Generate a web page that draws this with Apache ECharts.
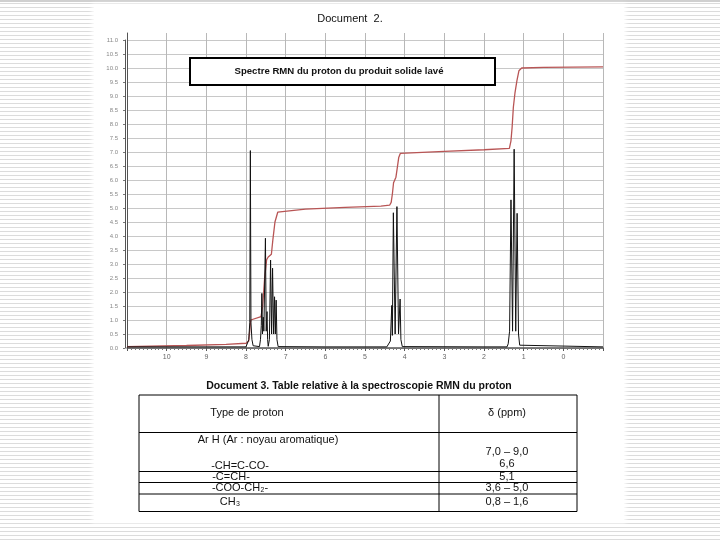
<!DOCTYPE html>
<html>
<head>
<meta charset="utf-8">
<script src="https://cdn.jsdelivr.net/npm/echarts@6/dist/echarts.min.js"></script>
<style>
  html, body { margin: 0; padding: 0; }
  body {
    width: 720px; height: 540px; overflow: hidden; position: relative;
    background: repeating-linear-gradient(to bottom, #ffffff 0px, #ffffff 3px, #dcdcdc 3px, #dcdcdc 4px);
  }
  #page { position: absolute; left: 94px; top: 6px; width: 530px; height: 515px; background: #fff; box-shadow: 0 0 4px 2px #fff; }
  #topline { position: absolute; left: 0; top: 0; width: 720px; height: 2px; background: #d0d0d0; }
  #chart { position: absolute; left: 0; top: 0; width: 720px; height: 540px; }
</style>
</head>
<body>
<div id="topline"></div>
<div id="page"></div>
<div id="chart"></div>
<script>
// ---- data ----
// spectrum: [ppm, intensity]
var spectrum = [
  [11.0, 0.04], [8.0, 0.04], [7.96, 0.08], [7.93, 0.3], [7.905, 0.9], [7.89, 7.05], [7.875, 0.9], [7.85, 0.3], [7.82, 0.08], [7.78, 0.04],
  [7.66, 0.05], [7.635, 0.3], [7.615, 0.8], [7.60, 1.95], [7.585, 0.5], [7.565, 1.1], [7.55, 0.6], [7.51, 3.92], [7.49, 0.6], [7.47, 1.3], [7.455, 0.3], [7.44, 0.06], [7.42, 0.06],
  [7.41, 0.3], [7.38, 3.14], [7.355, 0.5], [7.33, 2.85], [7.305, 0.5], [7.28, 1.83], [7.26, 0.5], [7.24, 1.71], [7.22, 0.3], [7.19, 0.05],
  [6.0, 0.04], [4.45, 0.04],
  [4.40, 0.06], [4.36, 0.25], [4.325, 1.52], [4.31, 0.45], [4.285, 4.83], [4.24, 0.5], [4.195, 5.05], [4.155, 0.5], [4.115, 1.75], [4.095, 0.3], [4.06, 0.05],
  [2.0, 0.04], [1.42, 0.04],
  [1.39, 0.15], [1.355, 0.6], [1.32, 5.29], [1.28, 0.6], [1.24, 7.1], [1.20, 0.6], [1.165, 4.81], [1.13, 0.5], [1.10, 0.1], [1.06, 0.04], [-1.0, 0.04]
];
// integration curve: [ppm, value]
var integral = [
  [11.0, 0.05], [9.5, 0.09], [8.5, 0.13], [8.0, 0.17], [7.93, 0.25], [7.90, 0.7], [7.88, 1.0], [7.85, 1.05],
  [7.62, 1.12], [7.58, 1.5], [7.53, 2.5], [7.48, 3.15], [7.44, 3.25], [7.36, 3.35], [7.32, 3.9], [7.27, 4.5], [7.2, 4.85], [7.15, 4.9],
  [6.5, 4.96], [5.5, 5.02], [4.6, 5.07], [4.38, 5.1], [4.34, 5.2], [4.31, 5.5], [4.28, 5.9], [4.25, 6.0], [4.22, 6.1], [4.19, 6.4], [4.15, 6.8], [4.11, 6.95],
  [3.0, 7.02], [2.0, 7.08], [1.36, 7.13], [1.32, 7.4], [1.29, 7.9], [1.26, 8.6], [1.22, 9.1], [1.17, 9.55], [1.12, 9.9], [1.05, 10.0], [0.5, 10.02], [-1.0, 10.04]
];
var docTitle = 'Document  2.';
var boxTitle = 'Spectre RMN du proton du produit solide lavé';
var tableTitle = 'Document 3. Table relative à la spectroscopie RMN du proton';
var tableHeader = ['Type de proton', 'δ (ppm)'];
var protonTypes = ['Ar H (Ar : noyau aromatique)', '-CH=C-CO-', '-C=CH-', '-COO-CH₂-', 'CH₃'];
var shifts = ['7,0 – 9,0', '6,6', '5,1', '3,6 – 5,0', '0,8 – 1,6'];

// ---- layout ----
var FONT = '"Liberation Sans", Arial, sans-serif';
var chart = echarts.init(document.getElementById('chart'), null, {renderer: 'canvas'});

function txt(x, y, s, size, weight, align) {
  return { type: 'text', x: x, y: y, z: 100,
    style: { text: s, fontSize: size, fontWeight: weight || 'normal', fontFamily: FONT,
             fill: '#111', align: align || 'center', verticalAlign: 'middle' } };
}
function hline(x1, x2, y, w) {
  return { type: 'line', z: 100, shape: {x1: x1, y1: y, x2: x2, y2: y}, style: {stroke: '#000', lineWidth: w || 1} };
}
function vline(x, y1, y2, w) {
  return { type: 'line', z: 100, shape: {x1: x, y1: y1, x2: x, y2: y2}, style: {stroke: '#000', lineWidth: w || 1} };
}

var TL = 139, TR = 577, TC = 439;
var rows = [395, 432.5, 471.5, 482.5, 494, 511.5];
var graphics = [
  txt(350, 19, docTitle, 11),
  { type: 'rect', z: 100, shape: {x: 190, y: 58, width: 305, height: 27},
    style: {fill: '#fff', stroke: '#000', lineWidth: 2} },
  txt(339, 71, boxTitle, 9.6, 'bold'),
  txt(359, 386, tableTitle, 10.5, 'bold'),
  { type: 'rect', z: 99, shape: {x: TL, y: rows[0], width: TR - TL, height: rows[5] - rows[0]},
    style: {fill: '#fff', stroke: '#000', lineWidth: 1} },
  vline(TC, rows[0], rows[5])
];
for (var i = 1; i < rows.length - 1; i++) graphics.push(hline(TL, TR, rows[i]));
graphics.push(txt(247, 413, tableHeader[0], 11));
graphics.push(txt(507, 413, tableHeader[1], 11));
var typeY = [440, 466, 477, 488, 502];
var typeX = [268, 240, 231, 240, 230];
var shiftY = [452, 464, 477, 488, 502];
for (var j = 0; j < protonTypes.length; j++) {
  graphics.push(txt(typeX[j], typeY[j], protonTypes[j], 11));
  graphics.push(txt(507, shiftY[j], shifts[j], 11));
}

var option = {
  animation: false,
  backgroundColor: 'transparent',
  textStyle: { fontFamily: FONT },
  grid: [
    { left: 127, right: 117, top: 33, bottom: 192 },
    { left: 127, right: 117, top: 40, bottom: 192 }
  ],
  xAxis: [
    { gridIndex: 0, type: 'value', min: -1, max: 11, interval: 1, inverse: true,
      axisLine: { show: true, onZero: false, lineStyle: { color: '#555', width: 1.5 } },
      axisTick: { show: true, length: 3, lineStyle: { color: '#555' } },
      minorTick: { show: true, splitNumber: 10, length: 2, lineStyle: { color: '#777' } },
      axisLabel: { fontSize: 7, color: '#666', margin: 6,
        formatter: function (v) { return (v < 0 || v > 10) ? '' : String(v); } },
      splitLine: { show: true, lineStyle: { color: '#b8b8b8', width: 1 } },
      minorSplitLine: { show: false } },
    { gridIndex: 1, type: 'value', min: -1, max: 11, inverse: true, show: false }
  ],
  yAxis: [
    { gridIndex: 0, type: 'value', min: 0, max: 11.25, interval: 0.5,
      axisLine: { show: true, onZero: false, lineStyle: { color: '#555', width: 1 } },
      axisTick: { show: false }, axisLabel: { show: false }, splitLine: { show: false } },
    { gridIndex: 1, type: 'value', min: 0, max: 11, interval: 0.5, offset: 2,
      axisLine: { show: true, onZero: false, lineStyle: { color: '#555', width: 1 } },
      axisTick: { show: true, length: 2, lineStyle: { color: '#777' } },
      axisLabel: { fontSize: 6, color: '#888', margin: 7, padding: [5, 0, 0, 0],
        formatter: function (v) { return v.toFixed(1); } },
      splitLine: { show: true, lineStyle: { color: '#c8c8c8', width: 1 } } }
  ],
  series: [
    { type: 'line', name: 'integral', xAxisIndex: 0, yAxisIndex: 0, data: integral,
      showSymbol: false, symbol: 'none', z: 3,
      lineStyle: { color: '#b85555', width: 1.3 } },
    { type: 'line', name: 'spectrum', xAxisIndex: 0, yAxisIndex: 0, data: spectrum,
      showSymbol: false, symbol: 'none', z: 4,
      lineStyle: { color: '#111', width: 1 } }
  ],
  graphic: graphics
};
chart.setOption(option);
</script>
</body>
</html>
